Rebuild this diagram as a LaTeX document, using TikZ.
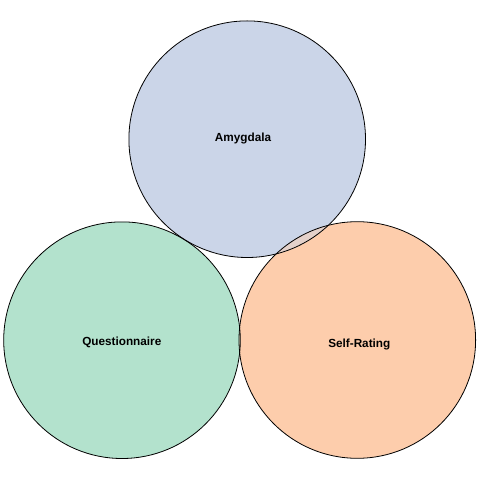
\documentclass[tikz,border=0pt]{standalone}
\usepackage{fontspec}
\setmainfont{Liberation Sans}
\definecolor{cblue}{HTML}{CBD5E8}
\definecolor{cgreen}{HTML}{B3E2CD}
\definecolor{corange}{HTML}{FDCDAC}
\definecolor{cbo}{HTML}{E4D1CA}
\definecolor{cgo}{HTML}{D8D8BD}
\begin{document}
\begin{tikzpicture}[x=1bp,y=-1bp,
  lab/.style={font=\bfseries\fontsize{11.8}{13}\selectfont, text=black, inner sep=0pt, anchor=base},
  ring/.style={draw=black, line width=0.8bp}]
\useasboundingbox (0,0) rectangle (480,480);
\def\R{118.3}
\coordinate (ca) at (247.2,139.2);
\coordinate (cq) at (122,340.2);
\coordinate (cs) at (357.3,340);
\fill[cblue] (ca) circle[radius=\R];
\fill[cgreen] (cq) circle[radius=\R];
\fill[corange] (cs) circle[radius=\R];
\begin{scope}
  \clip (ca) circle[radius=\R];
  \fill[cbo] (cs) circle[radius=\R];
\end{scope}
\begin{scope}
  \clip (cq) circle[radius=\R];
  \fill[cgo] (cs) circle[radius=\R];
\end{scope}
\draw[ring] (ca) circle[radius=\R];
\draw[ring] (cq) circle[radius=\R];
\draw[ring] (cs) circle[radius=\R];
\node[lab] (amy) at (243,141.3) {Amygdala};
\node[lab] (que) at (121.8,345) {Questionnaire};
\node[lab] (sel) at (359.3,347.3) {Self-Rating};
\end{tikzpicture}
\end{document}
